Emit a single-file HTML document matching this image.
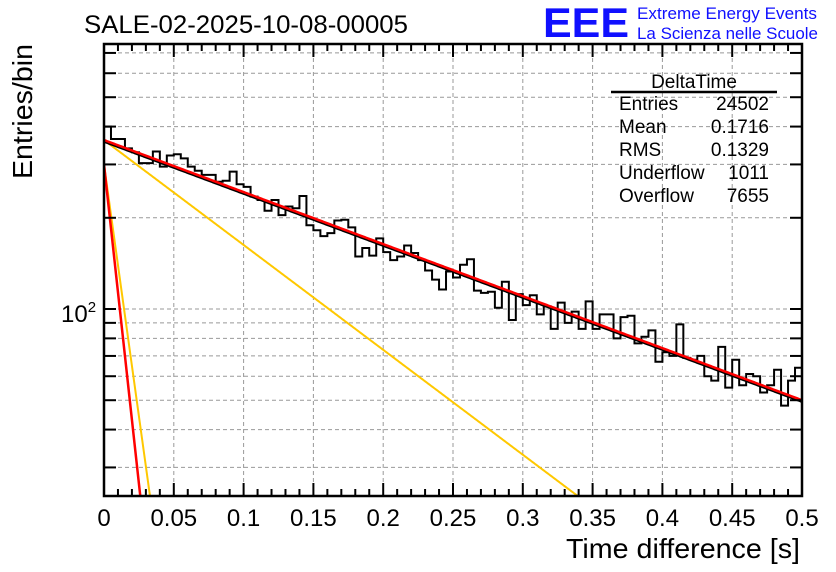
<!DOCTYPE html>
<html><head><meta charset="utf-8"><style>
body{margin:0;background:#fff;}
svg{display:block;font-family:"Liberation Sans",Arial,sans-serif;}
</style></head><body>
<svg id="chart" width="836" height="572" viewBox="0 0 836 572">
<rect width="836" height="572" fill="#fff"/>
<g id="grid"></g>
<g id="hist"></g>
<g id="fits"></g>
<g id="axes"></g>
<text x="84" y="33" font-size="25" textLength="324" lengthAdjust="spacingAndGlyphs">SALE-02-2025-10-08-00005</text>
<text x="543" y="37" font-size="42" font-weight="bold" fill="#1010ff" textLength="86" lengthAdjust="spacingAndGlyphs">EEE</text>
<text x="637" y="19" font-size="16.5" fill="#1010ff" textLength="180" lengthAdjust="spacingAndGlyphs">Extreme Energy Events</text>
<text x="637" y="39" font-size="16.5" fill="#1010ff" textLength="181" lengthAdjust="spacingAndGlyphs">La Scienza nelle Scuole</text>
<text transform="translate(32,179) rotate(-90)" font-size="28" textLength="135" lengthAdjust="spacingAndGlyphs">Entries/bin</text>
<text x="800" y="558" font-size="28" text-anchor="end" textLength="234" lengthAdjust="spacingAndGlyphs">Time difference [s]</text>
<g font-size="19">
<text x="694" y="88" text-anchor="middle">DeltaTime</text>
<line x1="611" y1="92" x2="777" y2="92" stroke="#000" stroke-width="2.5"/>
<text x="619" y="110">Entries</text><text x="769" y="110" text-anchor="end">24502</text>
<text x="619" y="133">Mean</text><text x="769" y="133" text-anchor="end">0.1716</text>
<text x="619" y="156">RMS</text><text x="769" y="156" text-anchor="end">0.1329</text>
<text x="619" y="179">Underflow</text><text x="769" y="179" text-anchor="end">1011</text>
<text x="619" y="202">Overflow</text><text x="769" y="202" text-anchor="end">7655</text>
</g>
</svg>
<script>
const binCounts=[400,364,364,339,329,303,303,331,295,321,324,314,295,286,277,277,263,265,284,258,253,235,229,211,229,204,218,215,236,189,182,174,178,196,197,186,149,159,150,171,154,145,149,162,153,145,134,125,116,133,127,140,146,115,113,114,101,123,92,112,103,111,96,102,86,105,90,98,86,106,86,96,96,80,94,95,77,81,85,67,72,70,89,69,68,70,60,58,75,55,68,56,61,60,53,56,63,48,58,64];
const xRange=[0,0.5];
const xTicks=[0,0.05,0.1,0.15,0.2,0.25,0.3,0.35,0.4,0.45,0.5];
const xTickLabels=["0","0.05","0.1","0.15","0.2","0.25","0.3","0.35","0.4","0.45","0.5"];
const yTickValues=[30,40,50,60,70,80,90,100,200,300,400,500,600,700];
// exponential curves: amplitude at t=0, decay constant (1/s)
const redSlow=[361,3.953];
const redFast=[300,97];
const yellowSlow=[361,7.97];
const yellowFast=[300,76.5];
const L=104,R=802,T=44,B=496;
const NS='http://www.w3.org/2000/svg';
const X=v=>L+(v-xRange[0])/(xRange[1]-xRange[0])*(R-L);
const Y=v=>309-303*Math.log10(v/100);
function mk(tag,attrs,parent){const e=document.createElementNS(NS,tag);for(const k in attrs)e.setAttribute(k,attrs[k]);parent.appendChild(e);return e;}
const grid=document.getElementById('grid'),axes=document.getElementById('axes'),hist=document.getElementById('hist'),fits=document.getElementById('fits');
xTicks.forEach((t,i)=>{if(i>0&&i<xTicks.length-1){const g=mk('line',{x1:X(t),x2:X(t),y1:T,y2:B,stroke:'#999','stroke-dasharray':'4,3','stroke-width':1},grid);

}
const lb=mk('text',{x:X(t),y:526,'font-size':24,'text-anchor':'middle'},axes);lb.textContent=xTickLabels[i];

});
yTickValues.forEach(v=>{const g=mk('line',{x1:L,x2:R,y1:Y(v),y2:Y(v),stroke:'#999','stroke-dasharray':'4,3','stroke-width':1},grid);


mk('line',{x1:L,x2:L+12,y1:Y(v),y2:Y(v),stroke:'#000','stroke-width':2},axes);
mk('line',{x1:R-12,x2:R,y1:Y(v),y2:Y(v),stroke:'#000','stroke-width':2},axes);});
for(let i=0;i<=50;i++){const t=i*0.01,len=(i%5==0)?13:7;
mk('line',{x1:X(t),x2:X(t),y1:B,y2:B-len,stroke:'#000','stroke-width':2},axes);
mk('line',{x1:X(t),x2:X(t),y1:T,y2:T+len,stroke:'#000','stroke-width':2},axes);}
const yl=mk('text',{x:61,y:322,'font-size':24},axes);yl.innerHTML='10<tspan dy="-10" font-size="15">2</tspan>';


const fr=mk('rect',{x:L,y:T,width:R-L,height:B-T,fill:'none',stroke:'#000','stroke-width':2.5},axes);


const bw=(xRange[1]-xRange[0])/binCounts.length;
let d='M'+X(0)+','+B;
binCounts.forEach((c,i)=>{d+=' L'+X(i*bw)+','+Y(c)+' L'+X((i+1)*bw)+','+Y(c);});
const hp=mk('path',{d:d,fill:'none',stroke:'#000','stroke-width':2},hist);


function curve(p,color,name,w,dy){let pts=[];for(let i=0;i<=1000;i++){const t=xRange[1]*i/1000;const v=p[0]*Math.exp(-p[1]*t);let y=Y(v)+dy;if(y>B){pts.push([X(t),B]);break;}pts.push([X(t),y]);}
const e=mk('polyline',{points:pts.map(q=>q.join(',')).join(' '),fill:'none',stroke:color,'stroke-width':w},fits);

}
const clip=mk('clipPath',{id:'pc'},document.getElementById('chart'));mk('rect',{x:L,y:T,width:R-L,height:B-T},clip);
fits.setAttribute('clip-path','url(#pc)');
curve(yellowSlow,'#ffc800','fit-slow-component',2,0);
curve(yellowFast,'#ffc800','fit-fast-component',2,0);
curve(redFast,'#ff0000','fit-fast-total',2.5,0);
curve(redSlow,'#000','fit-total-shadow',2.5,1.5);
curve(redSlow,'#ff0000','fit-total',2.5,0);
</script>
</body></html>
